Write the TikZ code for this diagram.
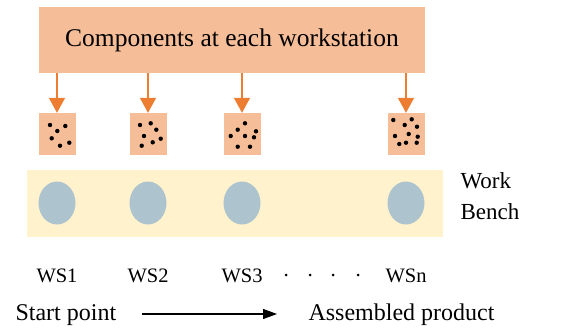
\documentclass[tikz,border=0pt]{standalone}
\usepackage{fontspec}
\setmainfont{Liberation Serif}
\usetikzlibrary{arrows.meta,shapes.geometric}
\definecolor{partfill}{HTML}{F5BD98}
\definecolor{partline}{HTML}{ED7D31}
\definecolor{benchfill}{HTML}{FFF2CC}
\definecolor{wsfill}{HTML}{ADC4CF}
\tikzset{
  partbox/.style={fill=partfill, inner sep=0pt, minimum width=37pt, minimum height=42pt},
  partarrow/.style={draw=partline, line width=1.6pt, -{Triangle[width=16pt,length=15pt]}},
  wsnode/.style={ellipse, fill=wsfill, inner sep=0pt, minimum width=37pt, minimum height=43pt},
  wslabel/.style={anchor=base, font=\fontsize{20.5}{24}\selectfont}
}
\begin{document}
\begin{tikzpicture}[x=1pt,y=-1pt]
\useasboundingbox (0,0) rectangle (579,332);
\node[fill=partfill, minimum width=386pt, minimum height=66pt, inner sep=0pt,
  font=\fontsize{25.5}{30}\selectfont] (comp) at (232,40) {Components at each workstation};
\node[fill=benchfill, minimum width=416pt, minimum height=67pt, inner sep=0pt] (bench) at (235,203.5) {};
\node[anchor=west, align=left, font=\fontsize{23}{31}\selectfont] (benchlbl) at (457,196) {Work\\Bench};
\foreach \i/\x/\t in {1/57/WS1,2/148/WS2,3/242/WS3,4/406/WSn}{
  \node[partbox] (c\i) at (\x,134) {};
  \node[wsnode] (ws\i) at (\x,203) {};
  \node[wslabel] (wsl\i) at (\x,282) {\t};
  \draw[partarrow] (c\i |- comp.south) -- (c\i.north);
}
% components
\foreach \x/\y in {50/125,57.3/131,65.3/126,51.7/138.3,60/145.7,69.3/142.7,
  140/125,150.7/123.3,156.3/129.7,144/136,160.7/138.7,152.7/142.3,141.7/145.7,
  245/123.3,237.7/129.7,256/131.3,230.7/136,245/136,254/137.3,237.7/146.7,250/146.7,
  393.3/120,411.7/119.3,404.7/125,417/126.7,395/136,408.7/134,417.7/136.7,399.3/144,406/142.7,416.7/142.7}
  \fill (\x,\y) circle [radius=2.2pt];
\foreach \x in {286,310,333,358}
  \fill (\x,275) circle [radius=1.5pt];
\node[anchor=base west, font=\fontsize{24}{28}\selectfont] (start) at (12,320) {Start point};
\node[anchor=base west, font=\fontsize{24}{28}\selectfont] (prod) at (305,320) {Assembled product};
\coordinate (flowa) at (142,314);
\coordinate (flowb) at (277,314);
\draw[line width=1.1pt, -{Triangle[width=10pt,length=14pt]}] (flowa) -- (flowb);
\end{tikzpicture}
\end{document}
